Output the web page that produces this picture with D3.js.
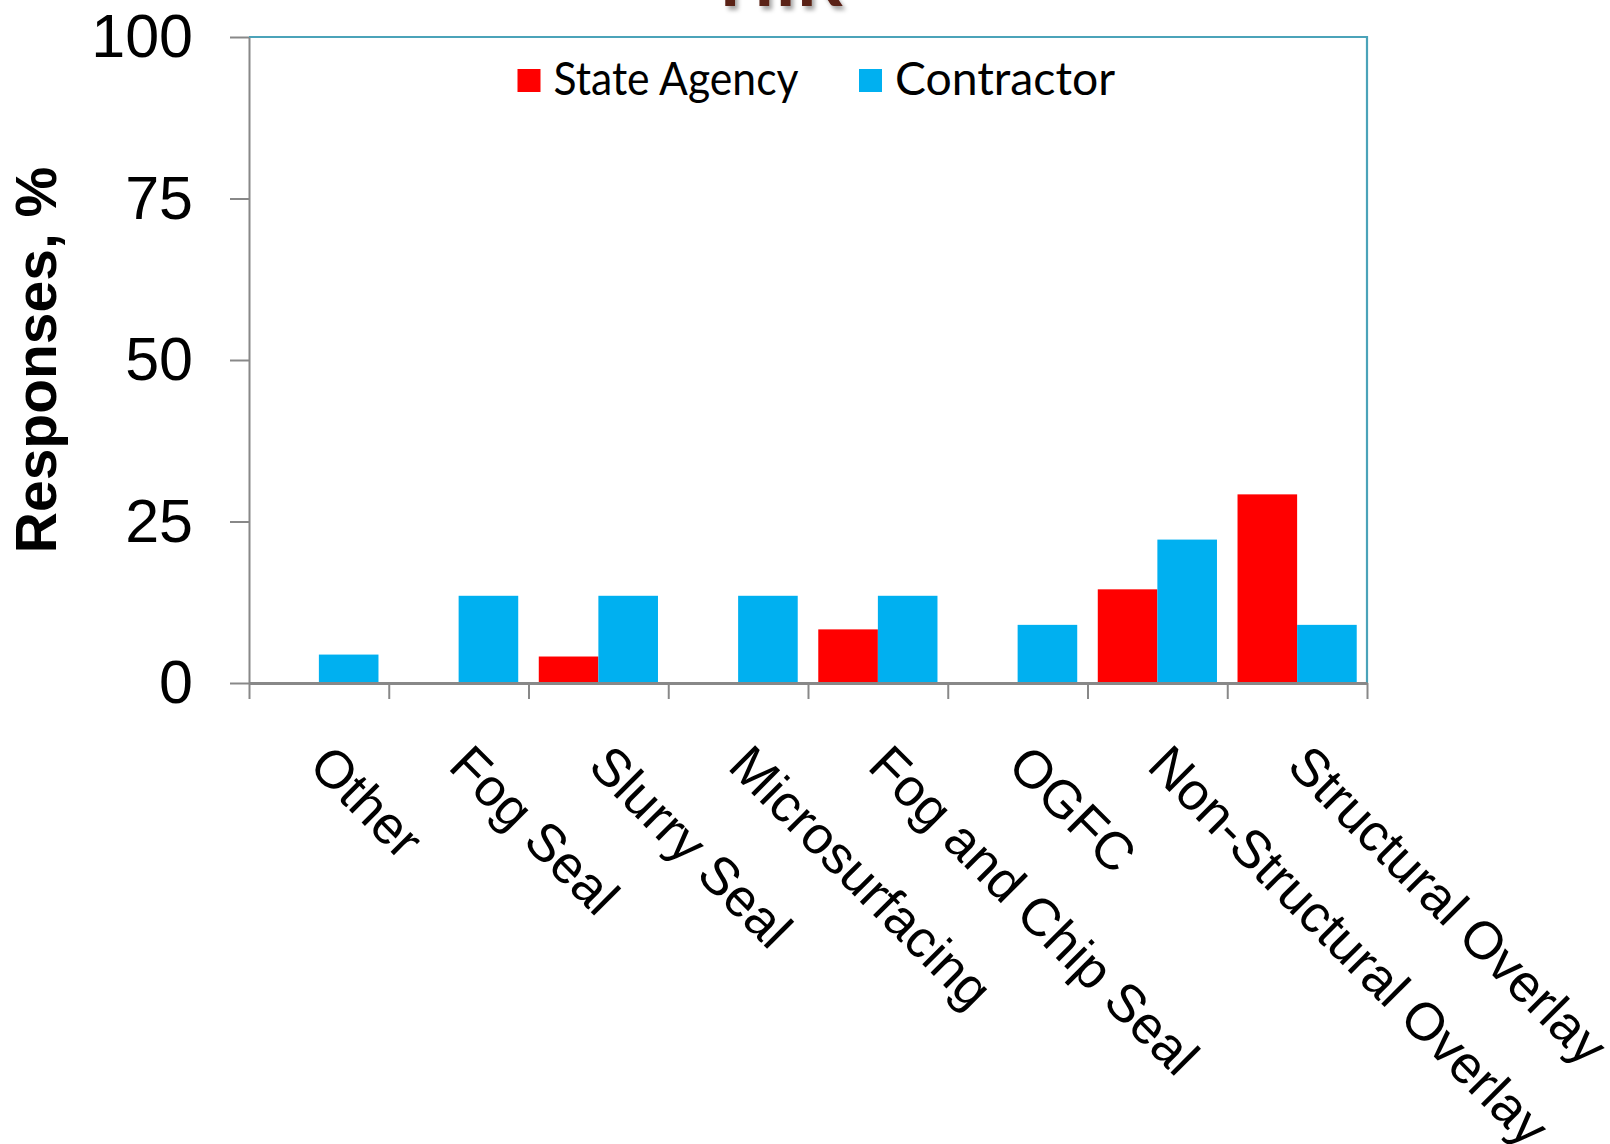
<!DOCTYPE html>
<html>
<head>
<meta charset="utf-8">
<script src="https://cdn.jsdelivr.net/npm/d3@7"></script>
<style>
  html, body { margin: 0; padding: 0; background: #fff; }
  svg { display: block; }
</style>
</head>
<body>
<svg id="chart" width="1610" height="1144"></svg>
<script>
const title = "HIR";
const categories = ["Other", "Fog Seal", "Slurry Seal", "Microsurfacing", "Fog and Chip Seal", "OGFC", "Non-Structural Overlay", "Structural Overlay"];
const seriesNames = ["State Agency", "Contractor"];
const stateAgency = [0, 0, 4.1, 0, 8.3, 0, 14.5, 29.2];
const contractor = [4.4, 13.5, 13.5, 13.5, 13.5, 9.0, 22.2, 9.0];
const yTicks = [0, 25, 50, 75, 100];
const yTitle = "Responses, %";
const colors = ["#ff0000", "#00b0f0"];

const svg = d3.select("#chart");
const plot = { left: 249, right: 1367, top: 37, bottom: 683 };

const x0 = d3.scaleBand().domain(categories).range([plot.left, plot.right])
  .paddingInner(0.147).paddingOuter(0.0735);
const x1 = d3.scaleBand().domain(seriesNames).range([0, x0.bandwidth()]);
const y = d3.scaleLinear().domain([0, 100]).range([plot.bottom, plot.top]);
const xb = d3.scaleLinear().domain([0, categories.length]).range([plot.left, plot.right]);

// Title (cut off at top)
const defs = svg.append("defs");
const f = defs.append("filter").attr("id", "shadow").attr("x", "-20%").attr("y", "-20%").attr("width", "140%").attr("height", "160%");
f.append("feDropShadow").attr("dx", 3).attr("dy", 4).attr("stdDeviation", 2).attr("flood-color", "#000").attr("flood-opacity", 0.35);
svg.append("text")
  .attr("x", 781).attr("y", 6)
  .attr("text-anchor", "middle")
  .attr("font-family", "Lato, 'Open Sans', sans-serif")
  .attr("font-weight", "bold")
  .attr("font-size", 72)
  .attr("fill", "#5a2014")
  .attr("filter", "url(#shadow)")
  .text(title);

// plot border (top & right, teal)
svg.append("path")
  .attr("d", `M${plot.left},${plot.top}H${plot.right}V${plot.bottom}`)
  .attr("fill", "none").attr("stroke", "#4ba3b9").attr("stroke-width", 2.2);

// bars
const data = categories.map((c, i) => ({ cat: c, vals: [stateAgency[i], contractor[i]] }));
const g = svg.append("g");
data.forEach(d => {
  d.vals.forEach((v, k) => {
    if (v <= 0) return;
    g.append("rect")
      .attr("x", x0(d.cat) + x1(seriesNames[k]))
      .attr("width", x1.bandwidth())
      .attr("y", y(v))
      .attr("height", y(0) - y(v))
      .attr("fill", colors[k]);
  });
});

// Y axis
const yAxis = svg.append("g").attr("transform", `translate(${plot.left},0)`)
  .call(d3.axisLeft(y).tickValues(yTicks).tickSizeInner(19).tickSizeOuter(0).tickPadding(37));
yAxis.select(".domain").attr("stroke", "#888").attr("stroke-width", 2);
yAxis.selectAll(".tick line").attr("stroke", "#888").attr("stroke-width", 2);
yAxis.selectAll(".tick text")
  .attr("font-family", "'Liberation Sans', Arial, sans-serif")
  .attr("font-size", 61).attr("fill", "#000");

// X axis (boundary ticks)
const xAxis = svg.append("g").attr("transform", `translate(0,${plot.bottom})`)
  .call(d3.axisBottom(xb).tickValues(d3.range(categories.length + 1)).tickFormat("").tickSizeInner(16).tickSizeOuter(0));
xAxis.select(".domain").attr("stroke", "#888").attr("stroke-width", 3);
xAxis.selectAll(".tick line").attr("stroke", "#888").attr("stroke-width", 2);

// X labels rotated 45deg
svg.append("g").selectAll("text").data(categories).join("text")
  .attr("transform", d => `translate(${x0(d) + x0.bandwidth() / 2 - 12},${768}) rotate(45)`)
  .attr("text-anchor", "start")
  .attr("font-family", "'Liberation Sans', Arial, sans-serif")
  .attr("font-size", 53).attr("fill", "#000")
  .text(d => d);

// Y title
svg.append("text")
  .attr("transform", `translate(56,360) rotate(-90)`)
  .attr("text-anchor", "middle")
  .attr("font-family", "'Liberation Sans', Arial, sans-serif")
  .attr("font-weight", "bold")
  .attr("font-size", 57).attr("fill", "#000")
  .text(yTitle);

// Legend
const legendX = [517.5, 859];
const legendTextLen = [245, 220];
const leg = svg.append("g");
seriesNames.forEach((s, k) => {
  leg.append("rect").attr("x", legendX[k]).attr("y", 69).attr("width", 23).attr("height", 23).attr("fill", colors[k]);
  leg.append("text").attr("x", legendX[k] + 36).attr("y", 95)
    .attr("font-family", "Lato, 'Open Sans', sans-serif")
    .attr("font-size", 47).attr("fill", "#000")
    .attr("textLength", legendTextLen[k]).attr("lengthAdjust", "spacingAndGlyphs")
    .text(s);
});
</script>
</body>
</html>
